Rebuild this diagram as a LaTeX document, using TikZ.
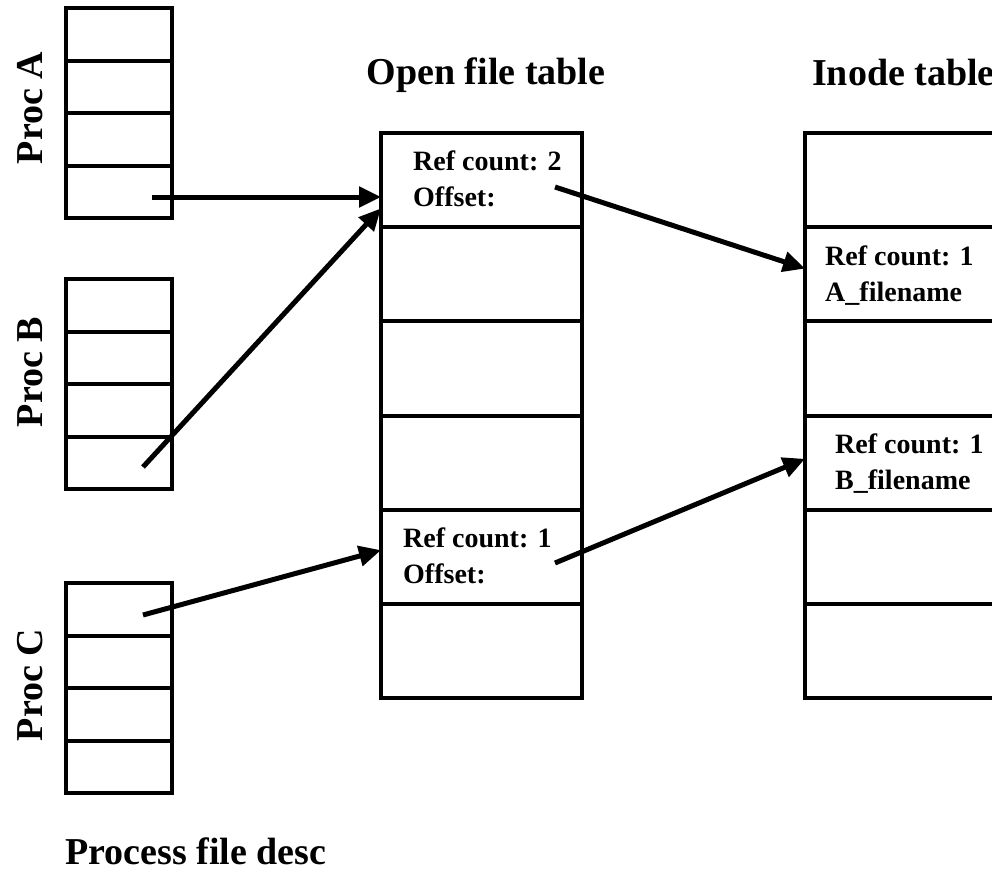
\documentclass[tikz,border=0pt]{standalone}
\usepackage{fontspec}
\setmainfont{Liberation Serif}
\usetikzlibrary{arrows.meta,calc}

\begin{document}
\begin{tikzpicture}[x=1pt,y=-1pt,
  frame/.style={draw, line width=4pt, inner sep=0pt, outer sep=0pt, anchor=north west},
  pcell/.style={frame, minimum width=106pt, minimum height=52.5pt},
  tcell/.style={frame, minimum width=201pt, minimum height=94.17pt},
  icell/.style={frame, minimum width=300pt, minimum height=94.17pt},
  heading/.style={font=\fontsize{38}{44}\selectfont\bfseries, inner sep=0pt},
  entry/.style={font=\fontsize{28}{32}\selectfont\bfseries, inner sep=0pt, anchor=base west},
  link/.style={line width=5pt, -{Triangle[length=22pt,width=20pt]}}
]
\useasboundingbox (0,0) rectangle (992,871);
\clip (0,0) rectangle (992,871);

% per-process descriptor tables
\foreach \r in {1,...,4} {
  \node[pcell] (pa\r) at (66,{8+(\r-1)*52.5}) {};
  \node[pcell] (pb\r) at (66,{279+(\r-1)*52.5}) {};
  \node[pcell] (pc\r) at (66,{583+(\r-1)*52.5}) {};
}
% system-wide open file table and inode table
\foreach \r in {1,...,6} {
  \node[tcell] (o\r) at (381,{133+(\r-1)*94.17}) {};
  \node[icell] (i\r) at (805,{133+(\r-1)*94.17}) {};
}

% headings
\node[heading, rotate=90, anchor=base] (procA) at (42,108) {Proc A};
\node[heading, rotate=90, anchor=base] (procB) at (42,372) {Proc B};
\node[heading, rotate=90, anchor=base] (procC) at (42,685) {Proc C};
\node[heading, anchor=base] (openT) at (486,84) {Open file table};
\node[heading, anchor=base west] (inodeT) at (812,85) {Inode table};
\node[heading, anchor=base west] (pfd) at (65,864) {Process file desc};

% entry contents
\node[entry] (o1a) at (413,170) {Ref count: 2};
\node[entry] (o1b) at (413,206) {Offset:};
\node[entry] (o5a) at (403,547) {Ref count: 1};
\node[entry] (o5b) at (403,583) {Offset:};
\node[entry] (i2a) at (825,265) {Ref count: 1};
\node[entry] (i2b) at (825,301) {A\_filename};
\node[entry] (i4a) at (835,453) {Ref count: 1};
\node[entry] (i4b) at (835,489) {B\_filename};

% pointer origins inside the cells
\coordinate (aFrom) at (152,197);
\coordinate (bFrom) at (143,467);
\coordinate (cFrom) at (143,615);
\coordinate (o1From) at (555,187);
\coordinate (o5From) at (555,563);

% pointers
\draw[link] (aFrom) -- (aFrom -| o1.west);
\draw[link] (bFrom) -- ($(o1.south west)!0.2!(o1.north west)$);
\draw[link] (cFrom) -- ($(o5.south west)!0.57!(o5.north west)$);
\draw[link] (o1From) -- ($(i2.south west)!0.56!(i2.north west)$);
\draw[link] (o5From) -- ($(i4.south west)!0.54!(i4.north west)$);
\end{tikzpicture}
\end{document}
